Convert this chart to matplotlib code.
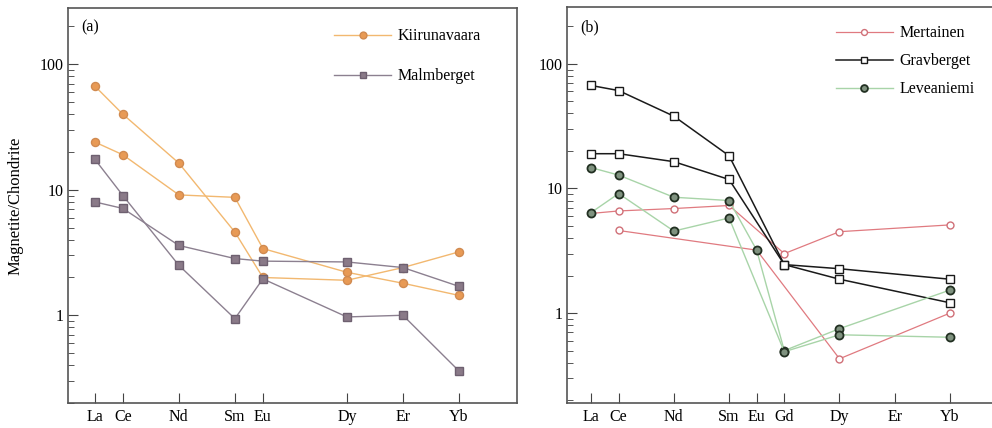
import numpy as np
import matplotlib
matplotlib.use("Agg")
import matplotlib.pyplot as plt
from matplotlib.ticker import LogLocator, NullFormatter, FixedLocator

plt.rcParams['font.family'] = ['Liberation Serif', 'DejaVu Serif']

# panel (a) elements and offsets from La (atomic number - 57)
ree_a = ['La', 'Ce', 'Nd', 'Sm', 'Eu', 'Dy', 'Er', 'Yb']
pos_a = [0, 1, 3, 5, 6, 9, 11, 13]
kiruna_1 = [67, 40, 16.3, 4.6, 2.0, 1.9, 2.4, 3.2]
kiruna_2 = [24, 19, 9.1, 8.7, 3.4, 2.2, 1.8, 1.44]
malm_1 = [17.5, 9.0, 2.5, 0.94, 1.95, 0.97, 1.0, 0.36]
malm_2 = [8.0, 7.1, 3.6, 2.83, 2.7, 2.66, 2.4, 1.70]

# panel (b)
nan = np.nan
ree_b = ['La', 'Ce', 'Nd', 'Sm', 'Eu', 'Gd', 'Dy', 'Er', 'Yb']
pos_b = [0, 1, 3, 5, 6, 7, 9, 11, 13]
mert_1 = [6.3, 6.6, 6.9, 7.3, nan, 3.0, 4.5, nan, 5.1]
mert_2 = [nan, 4.6, nan, nan, 3.2, nan, 0.43, nan, 1.0]
grav_1 = [67, 61, 38, 18.3, nan, 2.45, 2.27, nan, 1.87]
grav_2 = [19, 19, 16.4, 11.8, nan, 2.45, 1.87, nan, 1.21]
leve_1 = [14.7, 12.8, 8.5, 8.0, 3.2, 0.5, 0.75, nan, 1.53]
leve_2 = [6.4, 9.1, 4.55, 5.8, nan, 0.49, 0.67, nan, 0.64]


def draw(ax, pos, vals, **kw):
    x = np.array(pos, dtype=float)
    y = np.array(vals, dtype=float)
    ok = ~np.isnan(y)
    return ax.plot(x[ok], y[ok], **kw)[0]


def style_axis(ax, pos, names, xlim, ylim):
    ax.set_yscale('log')
    ax.set_xlim(*xlim)
    ax.set_ylim(*ylim)
    ax.xaxis.set_major_locator(FixedLocator(pos))
    ax.set_xticklabels(names)
    ax.yaxis.set_major_locator(FixedLocator([1, 10, 100]))
    ax.set_yticklabels(['1', '10', '100'])
    ax.yaxis.set_minor_locator(LogLocator(base=10, subs=np.arange(2, 10)))
    ax.yaxis.set_minor_formatter(NullFormatter())
    ax.tick_params(axis='both', which='major', direction='in', length=7,
                   width=0.8, labelsize=11.5, color='#444444')
    ax.tick_params(axis='y', which='minor', direction='in', length=4,
                   width=0.7, color='#555555')
    ax.tick_params(axis='x', pad=4)
    ax.tick_params(axis='y', pad=3)
    for s in ax.spines.values():
        s.set_color('#555555')
        s.set_linewidth(1.2)


fig = plt.figure(figsize=(9.92, 4.28), dpi=100)
ax_a = fig.add_axes([0.0685, 0.0584, 0.4526, 0.9226])
ax_b = fig.add_axes([0.5716, 0.0584, 0.4536, 0.9250])

# panel (a)
k_style = dict(color='#f2b870', lw=1.0, marker='o', ms=5.8,
               mfc='#e89a55', mec='#d08a50')
m_style = dict(color='#8c8090', lw=1.0, marker='s', ms=5.8,
               mfc='#8a7a88', mec='#6e6070')
hk = draw(ax_a, pos_a, kiruna_1, **k_style)
draw(ax_a, pos_a, kiruna_2, **k_style)
hm = draw(ax_a, pos_a, malm_1, **m_style)
draw(ax_a, pos_a, malm_2, **m_style)
style_axis(ax_a, pos_a, ree_a, (-0.96, 15.07), (0.2, 280))
ax_a.set_ylabel('Magnetite/Chondrite', fontsize=12, labelpad=12)
ax_a.text(0.03, 0.95, '(a)', transform=ax_a.transAxes, fontsize=11.5,
          va='center', ha='left')
ax_a.legend([hk, hm], ['Kiirunavaara', 'Malmberget'], frameon=False,
            loc='upper left', bbox_to_anchor=(0.56, 0.985), fontsize=11.5,
            handlelength=3.6, labelspacing=1.5, handletextpad=0.4,
            markerscale=0.85)

# panel (b)
me_style = dict(color='#e07a80', lw=0.9, marker='o', ms=5.0,
                mfc='white', mec='#d07078')
g_style = dict(color='#1a1a1a', lw=1.1, marker='s', ms=5.8,
               mfc='white', mec='#1a1a1a')
l_style = dict(color='#a8d4a8', lw=1.0, marker='o', ms=5.8,
               mfc='#7f927f', mec='#223022', mew=1.3)
hme = draw(ax_b, pos_b, mert_1, **me_style)
draw(ax_b, pos_b, mert_2, **me_style)
hg = draw(ax_b, pos_b, grav_1, **g_style)
draw(ax_b, pos_b, grav_2, **g_style)
hl = draw(ax_b, pos_b, leve_1, **l_style)
draw(ax_b, pos_b, leve_2, **l_style)
style_axis(ax_b, pos_b, ree_b, (-0.87, 15.43), (0.19, 285))
ax_b.text(0.03, 0.95, '(b)', transform=ax_b.transAxes, fontsize=11.5,
          va='center', ha='left')
ax_b.legend([hme, hg, hl], ['Mertainen', 'Gravberget', 'Leveaniemi'],
            frameon=False, loc='upper left', bbox_to_anchor=(0.565, 0.99),
            fontsize=11.5, handlelength=3.6, labelspacing=0.75,
            handletextpad=0.4, markerscale=0.85)

fig.savefig('out.png', dpi=100)
